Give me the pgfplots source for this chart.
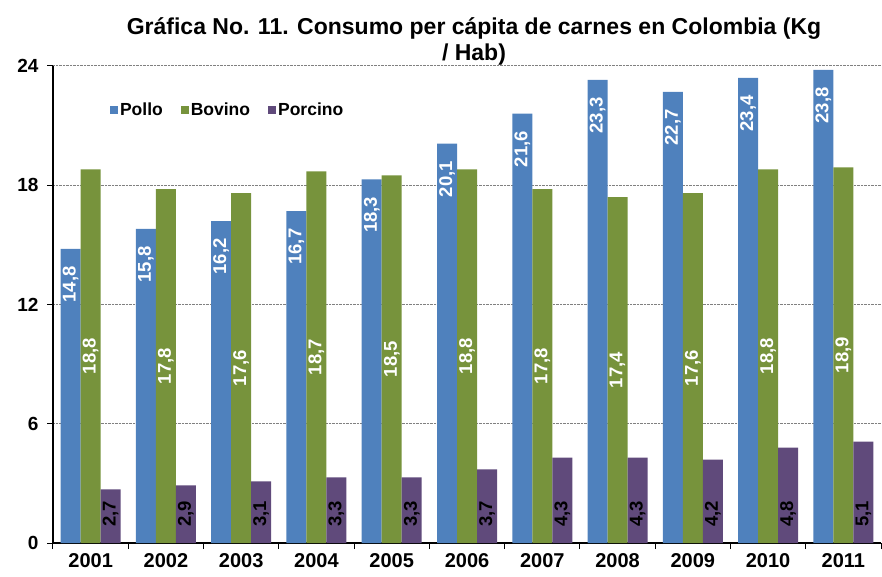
\documentclass[border=0pt]{standalone}
\usepackage{fontspec}
\setmainfont{Liberation Sans}
\usepackage{pgfplots}
\pgfplotsset{compat=1.18}
\definecolor{pollo}{HTML}{4F81BD}
\definecolor{bovino}{HTML}{77933C}
\definecolor{porcino}{HTML}{604A7B}
\newcommand{\lblfont}{\bfseries\fontsize{18.5}{20}\selectfont}

\begin{document}
\begin{tikzpicture}
\begin{axis}[
  width=828pt, height=477pt, scale only axis,
  xmin=-0.5, xmax=10.5, ymin=0, ymax=24,
  ybar=0pt, bar width=20pt,
  xtick={0,...,10},
  xticklabels={2001,2002,2003,2004,2005,2006,2007,2008,2009,2010,2011},
  minor xtick={-0.5,0.5,...,10.5},
  ytick={0,6,...,24},
  ymajorgrids, grid style={densely dotted, gray, line width=1pt},
  axis x line*=bottom, axis y line*=left,
  axis line style={-, line width=1.3pt, black},
  tick align=outside, tick style={black, line width=1pt},
  major x tick style={draw=none},
  major tick length=6pt, minor tick length=6pt,
  xticklabel style={font=\bfseries\fontsize{20}{22}\selectfont, yshift=-3pt,
    inner sep=1pt},
  yticklabel style={font=\bfseries\fontsize{19}{21}\selectfont, xshift=-5pt},
  /pgf/number format/assume math mode=true,
  title={Gráfica No. 11. Consumo per cápita de carnes en Colombia (Kg\\/ Hab)},
  title style={font=\bfseries\fontsize{23}{26}\selectfont, align=center,
    at={(0.5,1)}, anchor=south, xshift=7pt, yshift=-9pt},
  legend style={at={(0.065,0.908)}, anchor=west, draw=none, fill=none,
    font=\bfseries\fontsize{17.5}{19}\selectfont, legend columns=-1,
    /tikz/every even column/.append style={column sep=16pt}},
  legend image code/.code={\fill[#1] (0pt,-4pt) rectangle (8pt,4pt);},
  nodes near coords,
  visualization depends on={y \as \rawy},
  every node near coord/.append style={font=\lblfont,
    /pgf/number format/use comma, /pgf/number format/fixed,
    /pgf/number format/fixed zerofill, /pgf/number format/precision=1},
]
\addplot[fill=pollo, draw=none,
  nodes near coords style={yshift=-14pt, rotate=90, anchor=east, text=white}]
  coordinates {(0,14.8) (1,15.8) (2,16.2) (3,16.7) (4,18.3) (5,20.1)
               (6,21.6) (7,23.3) (8,22.7) (9,23.4) (10,23.8)};
\addplot[fill=bovino, draw=none,
  nodes near coords style={shift={(axis direction cs:0,-\rawy/2)},
    rotate=90, anchor=center, text=white}]
  coordinates {(0,18.8) (1,17.8) (2,17.6) (3,18.7) (4,18.5) (5,18.8)
               (6,17.8) (7,17.4) (8,17.6) (9,18.8) (10,18.9)};
\addplot[fill=porcino, draw=none,
  nodes near coords style={shift={(axis direction cs:0,-\rawy)}, yshift=13pt,
    rotate=90, anchor=west, text=black}]
  coordinates {(0,2.7) (1,2.9) (2,3.1) (3,3.3) (4,3.3) (5,3.7)
               (6,4.3) (7,4.3) (8,4.2) (9,4.8) (10,5.1)};
\legend{Pollo,Bovino,Porcino}
\end{axis}
\pgfresetboundingbox
\path (current axis.south west) ++(-53pt,-33pt) rectangle ++(882pt,576pt);
\end{tikzpicture}
\end{document}
